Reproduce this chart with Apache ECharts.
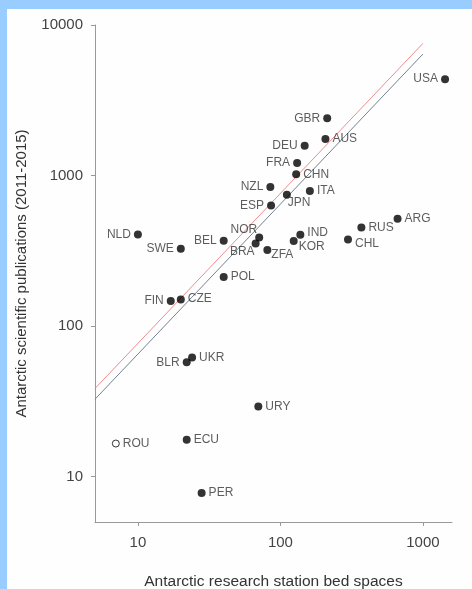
<!DOCTYPE html>
<html>
<head>
<meta charset="utf-8">
<script src="https://cdn.jsdelivr.net/npm/echarts@6/dist/echarts.min.js"></script>
<style>
  html, body {
    margin: 0;
    padding: 0;
    width: 472px;
    height: 589px;
    background: #99ccff;
    overflow: hidden;
  }
  #Chart {
    position: absolute;
    left: 7px;
    top: 9px;
    width: 465px;
    height: 580px;
    background: #fefefe;
  }
</style>
</head>
<body>
<div id="Chart"></div>
<script>
// countries (x = station bed spaces, y = publications 2011-2015)
const codes = ["USA", "GBR", "AUS", "DEU", "FRA", "CHN", "NZL", "ITA", "JPN", "ESP",
  "ARG", "RUS", "CHL", "IND", "KOR", "ZFA", "NOR", "BRA", "BEL", "NLD",
  "SWE", "POL", "FIN", "CZE", "UKR", "BLR", "URY", "ROU", "ECU", "PER"];
const beds = [1430, 213, 207, 148, 131, 129, 85, 161, 111, 86,
  664, 370, 298, 138, 124, 81, 71, 67, 40, 10,
  20, 40, 17, 20, 24, 22, 70, 7, 22, 28];
const pubs = [4370, 2400, 1750, 1580, 1210, 1020, 840, 790, 745, 633,
  517, 452, 376, 404, 367, 320, 388, 354, 369, 406,
  326, 212, 147, 150, 62, 57.5, 29.3, 16.6, 17.6, 7.8];
const hollow = ["ROU"]; // open circle

// fitted lines (two ends each)
const lineX = [5, 1000];
const redY = [38.5, 7550];
const greyY = [32.7, 6410];

const xTicks = [10, 100, 1000];
const yTicks = [10, 100, 1000, 10000];

// label placement: side + offset
const labelSide = {
  USA: ["left", [0, 0]], GBR: ["left", [0, 0]], AUS: ["right", [0, 0]],
  DEU: ["left", [0, 0]], FRA: ["left", [0, 0]], CHN: ["right", [0, 0]],
  NZL: ["left", [0, 0]], ITA: ["right", [0, 0]], JPN: ["right", [-6, 8]],
  ESP: ["left", [0, 0]], ARG: ["right", [0, 0]], RUS: ["right", [0, 0]],
  CHL: ["right", [0, 4]], IND: ["right", [0, -2]], KOR: ["right", [-2, 6]],
  ZFA: ["right", [-3, 5]], NOR: ["left", [5, -8]], BRA: ["left", [6, 8]],
  BEL: ["left", [0, 0]], NLD: ["left", [0, 0]], SWE: ["left", [0, 0]],
  POL: ["right", [0, 0]], FIN: ["left", [0, 0]], CZE: ["right", [0, -1]],
  UKR: ["right", [0, 0]], BLR: ["left", [0, 0]], URY: ["right", [0, 0]],
  ROU: ["right", [0, 0]], ECU: ["right", [0, 0]], PER: ["right", [0, 0]]
};

const font = "'Liberation Sans', Arial, sans-serif";

const points = codes.map(function (c, i) {
  const side = labelSide[c];
  const item = {
    name: c,
    value: [beds[i], pubs[i]],
    label: { position: side[0], offset: side[1] }
  };
  if (hollow.indexOf(c) >= 0) {
    item.itemStyle = { color: "#ffffff", borderColor: "#000", borderWidth: 1 };
    item.symbolSize = 7;
  }
  return item;
});

const chart = echarts.init(document.getElementById("Chart"), null, { renderer: "canvas" });

const axisCommon = {
  type: "log",
  logBase: 10,
  nameLocation: "middle",
  nameTextStyle: { fontSize: 15, color: "#333", fontFamily: font },
  splitLine: { show: false },
  axisLine: { lineStyle: { color: "#999", width: 1 } },
  axisTick: { show: true, length: 4, lineStyle: { color: "#999" } },
  axisLabel: {
    fontSize: 15,
    color: "#444",
    fontFamily: font,
    formatter: function (v) { return String(v); }
  }
};

const option = {
  animation: false,
  grid: { left: 88, top: 16, right: 20, bottom: 67, outerBoundsMode: "none", containLabel: false },
  xAxis: Object.assign({}, axisCommon, {
    min: 5,
    max: 1600,
    name: "Antarctic research station bed spaces",
    nameGap: 52,
    nameTextStyle: Object.assign({}, axisCommon.nameTextStyle, { fontSize: 15.5 }),
    axisTick: Object.assign({}, axisCommon.axisTick, { customValues: xTicks }),
    axisLabel: Object.assign({}, axisCommon.axisLabel, { customValues: xTicks, margin: 13 })
  }),
  yAxis: Object.assign({}, axisCommon, {
    min: 5,
    max: 10000,
    name: "Antarctic scientific publications (2011-2015)",
    nameGap: 66,
    axisTick: Object.assign({}, axisCommon.axisTick, { customValues: yTicks }),
    axisLabel: Object.assign({}, axisCommon.axisLabel, { customValues: yTicks, margin: 12 })
  }),
  series: [
    {
      type: "line",
      data: [[lineX[0], redY[0]], [lineX[1], redY[1]]],
      symbol: "none",
      lineStyle: { color: "#ec8c90", width: 1 },
      z: 1
    },
    {
      type: "line",
      data: [[lineX[0], greyY[0]], [lineX[1], greyY[1]]],
      symbol: "none",
      lineStyle: { color: "#74828e", width: 1 },
      z: 1
    },
    {
      type: "scatter",
      data: points,
      symbolSize: 8,
      itemStyle: { color: "#000" },
      label: {
        show: true,
        formatter: "{b}",
        distance: 3,
        fontSize: 12,
        color: "#333",
        fontFamily: font
      },
      z: 3
    }
  ]
};

chart.setOption(option);
</script>
</body>
</html>
